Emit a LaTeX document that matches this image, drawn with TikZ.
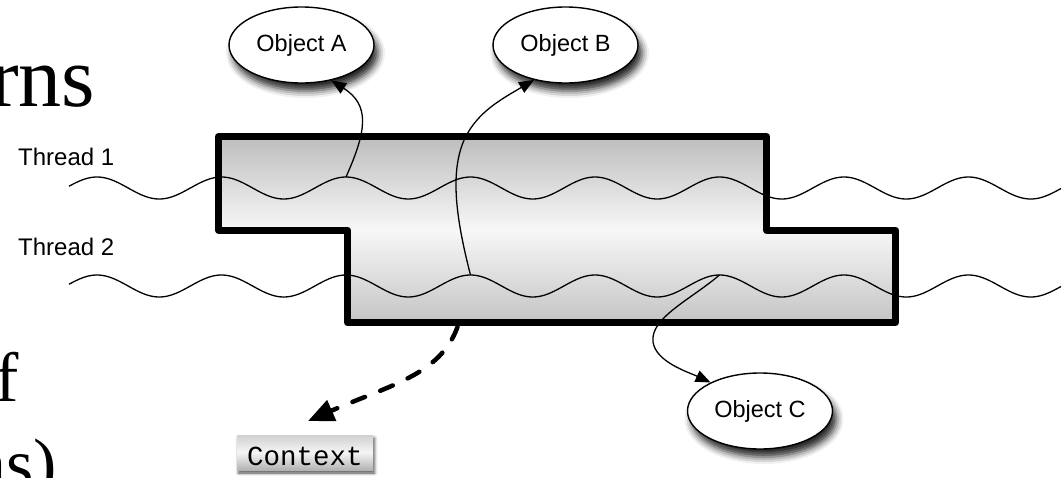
\documentclass[tikz,border=0pt]{standalone}
\usepackage{fontspec}
\setmainfont{Liberation Serif}
\setsansfont{Liberation Sans}
\setmonofont{Liberation Mono}
\usetikzlibrary{arrows.meta,shapes.geometric,shadows.blur}

\tikzset{
  object/.style={ellipse, draw, line width=1.4pt, fill=white,
    minimum width=145pt, minimum height=76pt, inner sep=0pt,
    font=\sffamily\fontsize{23.5}{26}\selectfont,
    blur shadow={shadow xshift=4pt, shadow yshift=-8pt,
      shadow blur radius=7pt, shadow opacity=85}},
  threadlabel/.style={anchor=base west, inner sep=0pt,
    font=\sffamily\fontsize{24}{28}\selectfont},
  bigtext/.style={anchor=base east, inner sep=0pt},
  region/.style={line width=7pt, line join=round,
    top color=black!26, bottom color=black!23, middle color=black!3},
  wave/.style={line width=1.3pt, line join=round},
  link/.style={line width=1.3pt, -{Triangle[length=15pt,width=12pt]}},
  ctxlink/.style={line width=4.5pt, line cap=round,
    dash pattern=on 13.5pt off 16.5pt,
    -{Triangle[length=26pt,width=22pt]}},
  ctxbox/.style={minimum width=136pt, minimum height=35pt,
    inner xsep=0pt, inner ysep=5pt, text height=25pt, text depth=0pt,
    font=\ttfamily\fontsize{27.5}{30}\selectfont,
    top color=black!18, bottom color=black!30, middle color=black!4,
    blur shadow={shadow xshift=1.5pt, shadow yshift=-3pt,
      shadow blur radius=3pt, shadow opacity=70}}
}

\begin{document}
\begin{tikzpicture}[x=1pt, y=-1pt]
  \useasboundingbox (0,0) rectangle (1061,477);
  \clip (0,0) rectangle (1061,477);

  % title fragments along the left edge
  \node[bigtext, font=\fontsize{86}{90}\selectfont] (t1) at (95.5,106) {rns};
  \node[bigtext, font=\fontsize{70}{74}\selectfont] (t2) at (19.5,401) {f};
  \node[bigtext, font=\fontsize{70}{74}\selectfont] (t3) at (57,487) {ns)};

  % shared region crossed by both threads
  \draw[region] (218.5,136.5) -- (766.5,136.5) -- (766.5,230) -- (895.5,230)
    -- (895.5,322.5) -- (347.5,322.5) -- (347.5,230) -- (218.5,230) -- cycle;

  % thread labels and wavy threads (period 124.5, first crest at x = 97)
  \node[threadlabel] (l1) at (18,165) {Thread 1};
  \node[threadlabel] (l2) at (18,255) {Thread 2};
  \draw[wave] plot[domain=69:1061, samples=400]
    (\x, {188 - 11*cos(2.8916*(\x-97))});
  \draw[wave] plot[domain=69:1061, samples=400]
    (\x, {286 - 11*cos(2.8916*(\x-97))});

  % points where the references leave the threads
  \coordinate (ta) at (346,177);
  \coordinate (tb) at (470.5,275);
  \coordinate (tc) at (719.5,275);
  \coordinate (d0) at (457.5,327);
  \coordinate (dtip) at (308,421);

  % objects
  \node[object] (oa) at (301.5,45) {Object A};
  \node[object] (ob) at (565.5,45) {Object B};
  \node[object] (oc) at (760,411) {Object C};

  % context
  \node[ctxbox] (ctx) at (305,452.5) {Context};

  % references
  \draw[link] (ta) .. controls (367,130) and (370,105) .. (oa.-50);
  \draw[link] (tb) .. controls (455,215) and (450,170) .. (465,138)
    .. controls (478,112) and (500,100) .. (ob.-132);
  \draw[link] (tc) .. controls (690,300) and (650,318) .. (653,342)
    .. controls (656,362) and (688,372) .. (oc.150);
  \draw[ctxlink] (d0) .. controls (440,375) and (390,385) .. (dtip);
\end{tikzpicture}
\end{document}
